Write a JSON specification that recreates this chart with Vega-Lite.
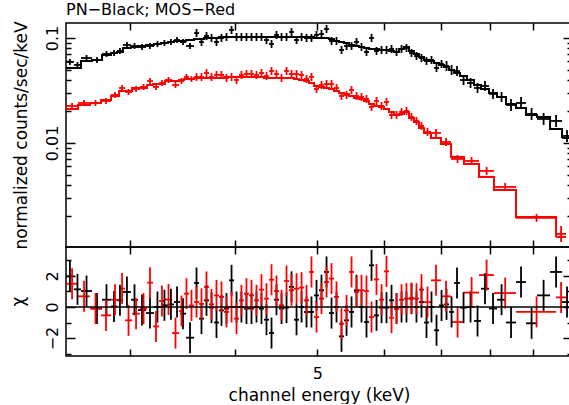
{
  "$schema": "https://vega.github.io/schema/vega-lite/v6.json",
  "autosize": {"type": "pad"},
  "padding": {"left": 8, "top": 2, "right": 0, "bottom": 0},
  "background": "white",
  "config": {
    "font": "DejaVu Sans",
    "view": {"stroke": "black", "strokeWidth": 1.5},
    "axis": {"domain": false, "grid": false, "tickColor": "black", "tickWidth": 1.5, "labelColor": "black", "titleColor": "black", "labelFont": "DejaVu Sans", "titleFont": "DejaVu Sans", "labelFontSize": 16, "titleFontSize": 17, "titleFontWeight": "normal", "labelOverlap": false, "labelFlush": false}
  },
  "title": {"text": "PN−Black; MOS−Red", "anchor": "start", "frame": "group", "fontSize": 16, "fontWeight": "normal", "font": "DejaVu Sans", "color": "black", "offset": 2},
  "spacing": 0,
  "bounds": "flush",
  "datasets": {
    "d": [
      {"s":"PN","lo":2.523,"hi":2.578,"e":2.550,"m":0.05179,"y":0.05908,"yl":0.05532,"yh":0.0631,"c":1.98,"cl":0.98,"ch":2.98},
      {"s":"PN","lo":2.578,"hi":2.628,"e":2.603,"m":0.05179,"y":0.05532,"yl":0.05179,"yh":0.05908,"c":1.14,"cl":0.14,"ch":2.14},
      {"s":"PN","lo":2.628,"hi":2.708,"e":2.668,"m":0.06039,"y":0.06449,"yl":0.06039,"yh":0.06888,"c":1.03,"cl":0.03,"ch":2.03},
      {"s":"PN","lo":2.708,"hi":2.783,"e":2.745,"m":0.06173,"y":0.06173,"yl":0.0578,"yh":0.06592,"c":-0.1,"cl":-1.1,"ch":0.9},
      {"s":"PN","lo":2.783,"hi":2.852,"e":2.817,"m":0.06888,"y":0.07041,"yl":0.06592,"yh":0.07519,"c":0.47,"cl":-0.53,"ch":1.47},
      {"s":"PN","lo":2.852,"hi":2.899,"e":2.875,"m":0.07197,"y":0.07197,"yl":0.06739,"yh":0.07686,"c":0.04,"cl":-0.96,"ch":1.04},
      {"s":"PN","lo":2.899,"hi":2.946,"e":2.922,"m":0.07356,"y":0.07519,"yl":0.07041,"yh":0.0803,"c":0.43,"cl":-0.57,"ch":1.43},
      {"s":"PN","lo":2.946,"hi":3.011,"e":2.978,"m":0.0803,"y":0.08576,"yl":0.0803,"yh":0.0916,"c":0.97,"cl":-0.03,"ch":1.97},
      {"s":"PN","lo":3.011,"hi":3.069,"e":3.040,"m":0.08208,"y":0.0839,"yl":0.07856,"yh":0.08961,"c":0.47,"cl":-0.53,"ch":1.47},
      {"s":"PN","lo":3.069,"hi":3.137,"e":3.103,"m":0.0839,"y":0.08208,"yl":0.07686,"yh":0.08767,"c":-0.2,"cl":-1.2,"ch":0.8},
      {"s":"PN","lo":3.137,"hi":3.206,"e":3.171,"m":0.08576,"y":0.0839,"yl":0.07856,"yh":0.08961,"c":-0.39,"cl":-1.39,"ch":0.61},
      {"s":"PN","lo":3.206,"hi":3.267,"e":3.236,"m":0.08767,"y":0.08767,"yl":0.08208,"yh":0.09363,"c":0,"cl":-1,"ch":1},
      {"s":"PN","lo":3.267,"hi":3.330,"e":3.298,"m":0.08961,"y":0.08961,"yl":0.0839,"yh":0.09571,"c":0.11,"cl":-0.89,"ch":1.11},
      {"s":"PN","lo":3.330,"hi":3.385,"e":3.357,"m":0.0916,"y":0.0916,"yl":0.08576,"yh":0.09783,"c":0.17,"cl":-0.83,"ch":1.17},
      {"s":"PN","lo":3.385,"hi":3.441,"e":3.413,"m":0.09363,"y":0.09571,"yl":0.08961,"yh":0.1022,"c":0.32,"cl":-0.68,"ch":1.32},
      {"s":"PN","lo":3.441,"hi":3.498,"e":3.469,"m":0.09363,"y":0.0916,"yl":0.08576,"yh":0.09783,"c":-0.43,"cl":-1.43,"ch":0.57},
      {"s":"PN","lo":3.498,"hi":3.575,"e":3.536,"m":0.09571,"y":0.0839,"yl":0.07856,"yh":0.08961,"c":-1.98,"cl":-2.98,"ch":-0.98},
      {"s":"PN","lo":3.575,"hi":3.624,"e":3.599,"m":0.09783,"y":0.1116,"yl":0.1022,"yh":0.1218,"c":1.55,"cl":0.55,"ch":2.55},
      {"s":"PN","lo":3.624,"hi":3.673,"e":3.648,"m":0.09783,"y":0.0916,"yl":0.0839,"yh":0.1,"c":-0.75,"cl":-1.75,"ch":0.25},
      {"s":"PN","lo":3.673,"hi":3.724,"e":3.698,"m":0.1,"y":0.1045,"yl":0.09571,"yh":0.1141,"c":0.43,"cl":-0.57,"ch":1.43},
      {"s":"PN","lo":3.724,"hi":3.775,"e":3.749,"m":0.1,"y":0.1,"yl":0.0916,"yh":0.1092,"c":-0.04,"cl":-1.04,"ch":0.96},
      {"s":"PN","lo":3.775,"hi":3.826,"e":3.800,"m":0.1,"y":0.0916,"yl":0.0839,"yh":0.1,"c":-1,"cl":-2,"ch":0},
      {"s":"PN","lo":3.826,"hi":3.879,"e":3.852,"m":0.1022,"y":0.1,"yl":0.0916,"yh":0.1092,"c":-0.22,"cl":-1.22,"ch":0.78},
      {"s":"PN","lo":3.879,"hi":3.932,"e":3.905,"m":0.1022,"y":0.1022,"yl":0.09363,"yh":0.1116,"c":-0.1,"cl":-1.1,"ch":0.9},
      {"s":"PN","lo":3.932,"hi":3.986,"e":3.959,"m":0.1022,"y":0.1192,"yl":0.1092,"yh":0.1301,"c":1.72,"cl":0.72,"ch":2.72},
      {"s":"PN","lo":3.986,"hi":4.040,"e":4.013,"m":0.1022,"y":0.1022,"yl":0.09363,"yh":0.1116,"c":0,"cl":-1,"ch":1},
      {"s":"PN","lo":4.040,"hi":4.095,"e":4.067,"m":0.1022,"y":0.1022,"yl":0.09363,"yh":0.1116,"c":0,"cl":-1,"ch":1},
      {"s":"PN","lo":4.095,"hi":4.152,"e":4.123,"m":0.1022,"y":0.1022,"yl":0.09363,"yh":0.1116,"c":-0.1,"cl":-1.1,"ch":0.9},
      {"s":"PN","lo":4.152,"hi":4.208,"e":4.180,"m":0.1022,"y":0.1022,"yl":0.09363,"yh":0.1116,"c":-0.1,"cl":-1.1,"ch":0.9},
      {"s":"PN","lo":4.208,"hi":4.266,"e":4.237,"m":0.1022,"y":0.1022,"yl":0.09363,"yh":0.1116,"c":0,"cl":-1,"ch":1},
      {"s":"PN","lo":4.266,"hi":4.325,"e":4.295,"m":0.1022,"y":0.1022,"yl":0.09363,"yh":0.1116,"c":-0.1,"cl":-1.1,"ch":0.9},
      {"s":"PN","lo":4.325,"hi":4.384,"e":4.354,"m":0.1022,"y":0.09571,"yl":0.08767,"yh":0.1045,"c":-0.82,"cl":-1.82,"ch":0.18},
      {"s":"PN","lo":4.384,"hi":4.444,"e":4.414,"m":0.1022,"y":0.08767,"yl":0.0803,"yh":0.09571,"c":-1.68,"cl":-2.68,"ch":-0.68},
      {"s":"PN","lo":4.444,"hi":4.505,"e":4.474,"m":0.1022,"y":0.1068,"yl":0.09783,"yh":0.1166,"c":0.47,"cl":-0.53,"ch":1.47},
      {"s":"PN","lo":4.505,"hi":4.567,"e":4.536,"m":0.1022,"y":0.1022,"yl":0.09363,"yh":0.1116,"c":-0.1,"cl":-1.1,"ch":0.9},
      {"s":"PN","lo":4.567,"hi":4.629,"e":4.598,"m":0.1022,"y":0.1022,"yl":0.09363,"yh":0.1116,"c":-0.04,"cl":-1.04,"ch":0.96},
      {"s":"PN","lo":4.629,"hi":4.693,"e":4.661,"m":0.1022,"y":0.1141,"yl":0.1045,"yh":0.1245,"c":1.3,"cl":0.3,"ch":2.3},
      {"s":"PN","lo":4.693,"hi":4.757,"e":4.725,"m":0.1022,"y":0.09571,"yl":0.08767,"yh":0.1045,"c":-0.82,"cl":-1.82,"ch":0.18},
      {"s":"PN","lo":4.757,"hi":4.822,"e":4.790,"m":0.1022,"y":0.1022,"yl":0.09363,"yh":0.1116,"c":0,"cl":-1,"ch":1},
      {"s":"PN","lo":4.822,"hi":4.888,"e":4.855,"m":0.1022,"y":0.1,"yl":0.0916,"yh":0.1092,"c":-0.32,"cl":-1.32,"ch":0.68},
      {"s":"PN","lo":4.888,"hi":4.955,"e":4.921,"m":0.1022,"y":0.1,"yl":0.0916,"yh":0.1092,"c":-0.32,"cl":-1.32,"ch":0.68},
      {"s":"PN","lo":4.955,"hi":5.023,"e":4.989,"m":0.1,"y":0.1068,"yl":0.09783,"yh":0.1166,"c":0.75,"cl":-0.25,"ch":1.75},
      {"s":"PN","lo":5.023,"hi":5.092,"e":5.057,"m":0.1,"y":0.1092,"yl":0.1,"yh":0.1192,"c":1.08,"cl":0.08,"ch":2.08},
      {"s":"PN","lo":5.092,"hi":5.161,"e":5.127,"m":0.1,"y":0.1218,"yl":0.1116,"yh":0.133,"c":2.26,"cl":1.26,"ch":3.26},
      {"s":"PN","lo":5.161,"hi":5.232,"e":5.197,"m":0.09783,"y":0.09363,"yl":0.08576,"yh":0.1022,"c":-0.39,"cl":-1.39,"ch":0.61},
      {"s":"PN","lo":5.232,"hi":5.304,"e":5.268,"m":0.09363,"y":0.09363,"yl":0.08576,"yh":0.1022,"c":0,"cl":-1,"ch":1},
      {"s":"PN","lo":5.304,"hi":5.377,"e":5.340,"m":0.0916,"y":0.07686,"yl":0.07041,"yh":0.0839,"c":-1.89,"cl":-2.89,"ch":-0.89},
      {"s":"PN","lo":5.377,"hi":5.450,"e":5.414,"m":0.08961,"y":0.0839,"yl":0.07686,"yh":0.0916,"c":-0.86,"cl":-1.86,"ch":0.14},
      {"s":"PN","lo":5.450,"hi":5.525,"e":5.488,"m":0.08576,"y":0.0839,"yl":0.07686,"yh":0.0916,"c":-0.32,"cl":-1.32,"ch":0.68},
      {"s":"PN","lo":5.525,"hi":5.601,"e":5.563,"m":0.0839,"y":0.0916,"yl":0.0839,"yh":0.1,"c":1.08,"cl":0.08,"ch":2.08},
      {"s":"PN","lo":5.601,"hi":5.678,"e":5.639,"m":0.08208,"y":0.08208,"yl":0.07519,"yh":0.08961,"c":0,"cl":-1,"ch":1},
      {"s":"PN","lo":5.678,"hi":5.755,"e":5.716,"m":0.0803,"y":0.07356,"yl":0.06739,"yh":0.0803,"c":-0.97,"cl":-1.97,"ch":0.03},
      {"s":"PN","lo":5.755,"hi":5.834,"e":5.795,"m":0.07856,"y":0.1,"yl":0.0916,"yh":0.1092,"c":2.69,"cl":1.69,"ch":3.69},
      {"s":"PN","lo":5.834,"hi":5.914,"e":5.874,"m":0.07856,"y":0.07519,"yl":0.06888,"yh":0.08208,"c":-0.54,"cl":-1.54,"ch":0.46},
      {"s":"PN","lo":5.914,"hi":5.995,"e":5.955,"m":0.07686,"y":0.07686,"yl":0.07041,"yh":0.0839,"c":-0.04,"cl":-1.04,"ch":0.96},
      {"s":"PN","lo":5.995,"hi":6.078,"e":6.036,"m":0.07686,"y":0.07686,"yl":0.07041,"yh":0.0839,"c":-0.04,"cl":-1.04,"ch":0.96},
      {"s":"PN","lo":6.078,"hi":6.161,"e":6.119,"m":0.07519,"y":0.07856,"yl":0.07197,"yh":0.08576,"c":0.43,"cl":-0.57,"ch":1.43},
      {"s":"PN","lo":6.161,"hi":6.246,"e":6.203,"m":0.07356,"y":0.07356,"yl":0.06739,"yh":0.0803,"c":-0.1,"cl":-1.1,"ch":0.9},
      {"s":"PN","lo":6.246,"hi":6.330,"e":6.288,"m":0.07856,"y":0.07856,"yl":0.07197,"yh":0.08576,"c":0,"cl":-1,"ch":1},
      {"s":"PN","lo":6.330,"hi":6.417,"e":6.373,"m":0.08208,"y":0.0803,"yl":0.07356,"yh":0.08767,"c":0,"cl":-1,"ch":1},
      {"s":"PN","lo":6.417,"hi":6.505,"e":6.461,"m":0.07519,"y":0.07197,"yl":0.06592,"yh":0.07856,"c":0.54,"cl":-0.46,"ch":1.54},
      {"s":"PN","lo":6.505,"hi":6.594,"e":6.549,"m":0.07041,"y":0.06739,"yl":0.06173,"yh":0.07356,"c":0,"cl":-1,"ch":1},
      {"s":"PN","lo":6.594,"hi":6.685,"e":6.639,"m":0.06592,"y":0.06449,"yl":0.05908,"yh":0.07041,"c":0.32,"cl":-0.68,"ch":1.32},
      {"s":"PN","lo":6.685,"hi":6.776,"e":6.730,"m":0.06173,"y":0.06039,"yl":0.05532,"yh":0.06592,"c":-1,"cl":-2,"ch":0},
      {"s":"PN","lo":6.776,"hi":6.869,"e":6.822,"m":0.06039,"y":0.06173,"yl":0.05654,"yh":0.06739,"c":0,"cl":-1,"ch":1},
      {"s":"PN","lo":6.869,"hi":6.963,"e":6.916,"m":0.0578,"y":0.05179,"yl":0.04745,"yh":0.05654,"c":-1.5,"cl":-2.5,"ch":-0.5},
      {"s":"PN","lo":6.963,"hi":7.059,"e":7.011,"m":0.05532,"y":0.05654,"yl":0.05179,"yh":0.06173,"c":0.1,"cl":-0.9,"ch":1.1},
      {"s":"PN","lo":7.059,"hi":7.156,"e":7.107,"m":0.05294,"y":0.05412,"yl":0.0485,"yh":0.06039,"c":0.17,"cl":-0.83,"ch":1.17},
      {"s":"PN","lo":7.156,"hi":7.254,"e":7.205,"m":0.04957,"y":0.04957,"yl":0.04442,"yh":0.05532,"c":-0.32,"cl":-1.32,"ch":0.68},
      {"s":"PN","lo":7.254,"hi":7.373,"e":7.313,"m":0.04642,"y":0.0485,"yl":0.04346,"yh":0.05412,"c":1.55,"cl":0.55,"ch":2.55},
      {"s":"PN","lo":7.373,"hi":7.515,"e":7.444,"m":0.04346,"y":0.03981,"yl":0.03568,"yh":0.04442,"c":-0.04,"cl":-1.04,"ch":0.96},
      {"s":"PN","lo":7.515,"hi":7.660,"e":7.587,"m":0.03981,"y":0.03728,"yl":0.0334,"yh":0.0416,"c":0,"cl":-1,"ch":1},
      {"s":"PN","lo":7.660,"hi":7.807,"e":7.733,"m":0.03568,"y":0.0334,"yl":0.02994,"yh":0.03728,"c":-0.9,"cl":-1.9,"ch":0.1},
      {"s":"PN","lo":7.807,"hi":7.978,"e":7.892,"m":0.03268,"y":0.0349,"yl":0.03128,"yh":0.03895,"c":1.18,"cl":0.18,"ch":2.18},
      {"s":"PN","lo":7.978,"hi":8.154,"e":8.066,"m":0.02994,"y":0.02929,"yl":0.02625,"yh":0.03268,"c":-0.1,"cl":-1.1,"ch":0.9},
      {"s":"PN","lo":8.154,"hi":8.356,"e":8.255,"m":0.02742,"y":0.02742,"yl":0.02457,"yh":0.0306,"c":0.47,"cl":-0.53,"ch":1.47},
      {"s":"PN","lo":8.356,"hi":8.587,"e":8.471,"m":0.02352,"y":0.02301,"yl":0.02017,"yh":0.02625,"c":-1,"cl":-2,"ch":0},
      {"s":"PN","lo":8.587,"hi":8.824,"e":8.705,"m":0.02154,"y":0.02404,"yl":0.02108,"yh":0.02742,"c":1.61,"cl":0.61,"ch":2.61},
      {"s":"PN","lo":8.824,"hi":9.092,"e":8.958,"m":0.01848,"y":0.01889,"yl":0.01656,"yh":0.02154,"c":-1.05,"cl":-2.05,"ch":-0.05},
      {"s":"PN","lo":9.092,"hi":9.420,"e":9.256,"m":0.01769,"y":0.01693,"yl":0.01484,"yh":0.01931,"c":0.75,"cl":-0.25,"ch":1.75},
      {"s":"PN","lo":9.420,"hi":9.733,"e":9.576,"m":0.01359,"y":0.0162,"yl":0.0142,"yh":0.01848,"c":2.26,"cl":1.26,"ch":3.26},
      {"s":"PN","lo":9.733,"hi":10.0,"e":9.866,"m":0.01116,"y":0.01166,"yl":0.01022,"yh":0.0133,"c":0.32,"cl":-0.68,"ch":1.32},
      {"s":"MOS","lo":2.523,"hi":2.607,"e":2.565,"m":0.02108,"y":0.02251,"yl":0.02108,"yh":0.02404,"c":1.5,"cl":0.5,"ch":2.5},
      {"s":"MOS","lo":2.607,"hi":2.693,"e":2.650,"m":0.02301,"y":0.02404,"yl":0.02251,"yh":0.02568,"c":0.69,"cl":-0.31,"ch":1.69},
      {"s":"MOS","lo":2.693,"hi":2.775,"e":2.734,"m":0.02404,"y":0.02404,"yl":0.02251,"yh":0.02568,"c":-0.1,"cl":-1.1,"ch":0.9},
      {"s":"MOS","lo":2.775,"hi":2.852,"e":2.813,"m":0.02568,"y":0.02512,"yl":0.02352,"yh":0.02683,"c":-0.54,"cl":-1.54,"ch":0.46},
      {"s":"MOS","lo":2.852,"hi":2.915,"e":2.883,"m":0.02803,"y":0.02865,"yl":0.02683,"yh":0.0306,"c":0.47,"cl":-0.53,"ch":1.47},
      {"s":"MOS","lo":2.915,"hi":2.963,"e":2.939,"m":0.03128,"y":0.0334,"yl":0.03128,"yh":0.03568,"c":1.19,"cl":0.19,"ch":2.19},
      {"s":"MOS","lo":2.963,"hi":3.020,"e":2.991,"m":0.03128,"y":0.0306,"yl":0.02865,"yh":0.03268,"c":-0.86,"cl":-1.86,"ch":0.14},
      {"s":"MOS","lo":3.020,"hi":3.086,"e":3.053,"m":0.0334,"y":0.03268,"yl":0.0306,"yh":0.0349,"c":-0.43,"cl":-1.43,"ch":0.57},
      {"s":"MOS","lo":3.086,"hi":3.146,"e":3.116,"m":0.0334,"y":0.03415,"yl":0.03197,"yh":0.03647,"c":-0.1,"cl":-1.1,"ch":0.9},
      {"s":"MOS","lo":3.146,"hi":3.197,"e":3.171,"m":0.03568,"y":0.03895,"yl":0.03647,"yh":0.0416,"c":1.57,"cl":0.57,"ch":2.57},
      {"s":"MOS","lo":3.197,"hi":3.250,"e":3.223,"m":0.03647,"y":0.03415,"yl":0.03197,"yh":0.03647,"c":-1.25,"cl":-2.25,"ch":-0.25},
      {"s":"MOS","lo":3.250,"hi":3.303,"e":3.276,"m":0.03647,"y":0.03728,"yl":0.0349,"yh":0.03981,"c":0.39,"cl":-0.61,"ch":1.39},
      {"s":"MOS","lo":3.303,"hi":3.367,"e":3.335,"m":0.03895,"y":0.03981,"yl":0.03728,"yh":0.04252,"c":0.48,"cl":-0.52,"ch":1.48},
      {"s":"MOS","lo":3.367,"hi":3.432,"e":3.399,"m":0.03895,"y":0.03568,"yl":0.0334,"yh":0.0381,"c":-1.68,"cl":-2.68,"ch":-0.68},
      {"s":"MOS","lo":3.432,"hi":3.479,"e":3.455,"m":0.03981,"y":0.03895,"yl":0.03647,"yh":0.0416,"c":-0.26,"cl":-1.26,"ch":0.74},
      {"s":"MOS","lo":3.479,"hi":3.526,"e":3.502,"m":0.04069,"y":0.04252,"yl":0.03981,"yh":0.04541,"c":0.86,"cl":-0.14,"ch":1.86},
      {"s":"MOS","lo":3.526,"hi":3.575,"e":3.550,"m":0.04069,"y":0.04069,"yl":0.0381,"yh":0.04346,"c":0.1,"cl":-0.9,"ch":1.1},
      {"s":"MOS","lo":3.575,"hi":3.624,"e":3.599,"m":0.0416,"y":0.04252,"yl":0.03895,"yh":0.04642,"c":0.32,"cl":-0.68,"ch":1.32},
      {"s":"MOS","lo":3.624,"hi":3.673,"e":3.648,"m":0.0416,"y":0.04252,"yl":0.03895,"yh":0.04642,"c":0.2,"cl":-0.8,"ch":1.2},
      {"s":"MOS","lo":3.673,"hi":3.724,"e":3.698,"m":0.0416,"y":0.04642,"yl":0.04252,"yh":0.05067,"c":1.29,"cl":0.29,"ch":2.29},
      {"s":"MOS","lo":3.724,"hi":3.775,"e":3.749,"m":0.0416,"y":0.04252,"yl":0.03895,"yh":0.04642,"c":0.17,"cl":-0.83,"ch":1.17},
      {"s":"MOS","lo":3.775,"hi":3.826,"e":3.800,"m":0.0416,"y":0.04442,"yl":0.04069,"yh":0.0485,"c":0.75,"cl":-0.25,"ch":1.75},
      {"s":"MOS","lo":3.826,"hi":3.879,"e":3.852,"m":0.0416,"y":0.04442,"yl":0.04069,"yh":0.0485,"c":0.65,"cl":-0.35,"ch":1.65},
      {"s":"MOS","lo":3.879,"hi":3.932,"e":3.905,"m":0.04252,"y":0.0416,"yl":0.0381,"yh":0.04541,"c":-0.32,"cl":-1.32,"ch":0.68},
      {"s":"MOS","lo":3.932,"hi":3.986,"e":3.959,"m":0.04252,"y":0.04252,"yl":0.03895,"yh":0.04642,"c":0,"cl":-1,"ch":1},
      {"s":"MOS","lo":3.986,"hi":4.040,"e":4.013,"m":0.04252,"y":0.03981,"yl":0.03647,"yh":0.04346,"c":-0.75,"cl":-1.75,"ch":0.25},
      {"s":"MOS","lo":4.040,"hi":4.095,"e":4.067,"m":0.04252,"y":0.04442,"yl":0.04069,"yh":0.0485,"c":0.43,"cl":-0.57,"ch":1.43},
      {"s":"MOS","lo":4.095,"hi":4.152,"e":4.123,"m":0.04252,"y":0.04541,"yl":0.0416,"yh":0.04957,"c":0.86,"cl":-0.14,"ch":1.86},
      {"s":"MOS","lo":4.152,"hi":4.208,"e":4.180,"m":0.04252,"y":0.04541,"yl":0.0416,"yh":0.04957,"c":0.75,"cl":-0.25,"ch":1.75},
      {"s":"MOS","lo":4.208,"hi":4.266,"e":4.237,"m":0.04252,"y":0.04442,"yl":0.04069,"yh":0.0485,"c":0.43,"cl":-0.57,"ch":1.43},
      {"s":"MOS","lo":4.266,"hi":4.325,"e":4.295,"m":0.04252,"y":0.04642,"yl":0.04252,"yh":0.05067,"c":1.12,"cl":0.12,"ch":2.12},
      {"s":"MOS","lo":4.325,"hi":4.384,"e":4.354,"m":0.0416,"y":0.04346,"yl":0.03981,"yh":0.04745,"c":0.54,"cl":-0.46,"ch":1.54},
      {"s":"MOS","lo":4.384,"hi":4.444,"e":4.414,"m":0.0416,"y":0.0485,"yl":0.04442,"yh":0.05294,"c":1.76,"cl":0.76,"ch":2.76},
      {"s":"MOS","lo":4.444,"hi":4.505,"e":4.474,"m":0.0416,"y":0.04541,"yl":0.0416,"yh":0.04957,"c":1.03,"cl":0.03,"ch":2.03},
      {"s":"MOS","lo":4.505,"hi":4.567,"e":4.536,"m":0.0416,"y":0.0416,"yl":0.0381,"yh":0.04541,"c":0.11,"cl":-0.89,"ch":1.11},
      {"s":"MOS","lo":4.567,"hi":4.629,"e":4.598,"m":0.0416,"y":0.0485,"yl":0.04442,"yh":0.05294,"c":1.68,"cl":0.68,"ch":2.68},
      {"s":"MOS","lo":4.629,"hi":4.693,"e":4.661,"m":0.0416,"y":0.04541,"yl":0.0416,"yh":0.04957,"c":1.08,"cl":0.08,"ch":2.08},
      {"s":"MOS","lo":4.693,"hi":4.757,"e":4.725,"m":0.04069,"y":0.04541,"yl":0.0416,"yh":0.04957,"c":1.18,"cl":0.18,"ch":2.18},
      {"s":"MOS","lo":4.757,"hi":4.822,"e":4.790,"m":0.03981,"y":0.04442,"yl":0.04069,"yh":0.0485,"c":1.25,"cl":0.25,"ch":2.25},
      {"s":"MOS","lo":4.822,"hi":4.888,"e":4.855,"m":0.03895,"y":0.04069,"yl":0.03728,"yh":0.04442,"c":0.43,"cl":-0.57,"ch":1.43},
      {"s":"MOS","lo":4.888,"hi":4.955,"e":4.921,"m":0.03728,"y":0.04252,"yl":0.03895,"yh":0.04642,"c":2.26,"cl":1.26,"ch":3.26},
      {"s":"MOS","lo":4.955,"hi":5.023,"e":4.989,"m":0.0349,"y":0.03268,"yl":0.02994,"yh":0.03568,"c":-0.65,"cl":-1.65,"ch":0.35},
      {"s":"MOS","lo":5.023,"hi":5.092,"e":5.057,"m":0.03415,"y":0.03568,"yl":0.03268,"yh":0.03895,"c":0.54,"cl":-0.46,"ch":1.54},
      {"s":"MOS","lo":5.092,"hi":5.161,"e":5.127,"m":0.0334,"y":0.03647,"yl":0.0334,"yh":0.03981,"c":1.61,"cl":0.61,"ch":2.61},
      {"s":"MOS","lo":5.161,"hi":5.232,"e":5.197,"m":0.03268,"y":0.03647,"yl":0.0334,"yh":0.03981,"c":1.83,"cl":0.83,"ch":2.83},
      {"s":"MOS","lo":5.232,"hi":5.304,"e":5.268,"m":0.03128,"y":0.0334,"yl":0.0306,"yh":0.03647,"c":0.65,"cl":-0.35,"ch":1.65},
      {"s":"MOS","lo":5.304,"hi":5.377,"e":5.340,"m":0.02994,"y":0.02803,"yl":0.02568,"yh":0.0306,"c":-1.08,"cl":-2.08,"ch":-0.08},
      {"s":"MOS","lo":5.377,"hi":5.450,"e":5.414,"m":0.02929,"y":0.02865,"yl":0.02625,"yh":0.03128,"c":-0.22,"cl":-1.22,"ch":0.78},
      {"s":"MOS","lo":5.450,"hi":5.525,"e":5.488,"m":0.02803,"y":0.03197,"yl":0.02929,"yh":0.0349,"c":2.26,"cl":1.26,"ch":3.26},
      {"s":"MOS","lo":5.525,"hi":5.601,"e":5.563,"m":0.02683,"y":0.02803,"yl":0.02568,"yh":0.0306,"c":0.97,"cl":-0.03,"ch":1.97},
      {"s":"MOS","lo":5.601,"hi":5.678,"e":5.639,"m":0.02625,"y":0.02742,"yl":0.02512,"yh":0.02994,"c":1.08,"cl":0.08,"ch":2.08},
      {"s":"MOS","lo":5.678,"hi":5.755,"e":5.716,"m":0.02512,"y":0.02625,"yl":0.02404,"yh":0.02865,"c":1.03,"cl":0.03,"ch":2.03},
      {"s":"MOS","lo":5.755,"hi":5.834,"e":5.795,"m":0.02352,"y":0.02202,"yl":0.02017,"yh":0.02404,"c":-0.65,"cl":-1.65,"ch":0.35},
      {"s":"MOS","lo":5.834,"hi":5.914,"e":5.874,"m":0.02251,"y":0.02512,"yl":0.02301,"yh":0.02742,"c":1.78,"cl":0.78,"ch":2.78},
      {"s":"MOS","lo":5.914,"hi":5.995,"e":5.955,"m":0.02202,"y":0.02251,"yl":0.02062,"yh":0.02457,"c":0.47,"cl":-0.53,"ch":1.47},
      {"s":"MOS","lo":5.995,"hi":6.078,"e":6.036,"m":0.02108,"y":0.02457,"yl":0.02251,"yh":0.02683,"c":2.3,"cl":1.3,"ch":3.3},
      {"s":"MOS","lo":6.078,"hi":6.161,"e":6.119,"m":0.01974,"y":0.01848,"yl":0.01693,"yh":0.02017,"c":-0.69,"cl":-1.69,"ch":0.31},
      {"s":"MOS","lo":6.161,"hi":6.246,"e":6.203,"m":0.01848,"y":0.01848,"yl":0.01693,"yh":0.02017,"c":-0.1,"cl":-1.1,"ch":0.9},
      {"s":"MOS","lo":6.246,"hi":6.330,"e":6.288,"m":0.01889,"y":0.01974,"yl":0.01808,"yh":0.02154,"c":0.47,"cl":-0.53,"ch":1.47},
      {"s":"MOS","lo":6.330,"hi":6.417,"e":6.373,"m":0.01974,"y":0.02017,"yl":0.01848,"yh":0.02202,"c":0.54,"cl":-0.46,"ch":1.54},
      {"s":"MOS","lo":6.417,"hi":6.505,"e":6.461,"m":0.0173,"y":0.01769,"yl":0.0162,"yh":0.01931,"c":0.58,"cl":-0.42,"ch":1.58},
      {"s":"MOS","lo":6.505,"hi":6.594,"e":6.549,"m":0.01585,"y":0.0162,"yl":0.01484,"yh":0.01769,"c":0.54,"cl":-0.46,"ch":1.54},
      {"s":"MOS","lo":6.594,"hi":6.685,"e":6.639,"m":0.0139,"y":0.01452,"yl":0.0133,"yh":0.01585,"c":1.12,"cl":0.12,"ch":2.12},
      {"s":"MOS","lo":6.685,"hi":6.813,"e":6.749,"m":0.01245,"y":0.01273,"yl":0.01166,"yh":0.0139,"c":0.32,"cl":-0.68,"ch":1.32},
      {"s":"MOS","lo":6.813,"hi":7.001,"e":6.907,"m":0.01116,"y":0.01245,"yl":0.01141,"yh":0.01359,"c":1.72,"cl":0.72,"ch":2.72},
      {"s":"MOS","lo":7.001,"hi":7.195,"e":7.098,"m":0.009783,"y":0.01022,"yl":0.009363,"yh":0.01116,"c":0.69,"cl":-0.31,"ch":1.69},
      {"s":"MOS","lo":7.195,"hi":7.454,"e":7.324,"m":0.007356,"y":0.007041,"yl":0.006449,"yh":0.007686,"c":-0.97,"cl":-1.97,"ch":0.03},
      {"s":"MOS","lo":7.454,"hi":7.765,"e":7.609,"m":0.00631,"y":0.006739,"yl":0.006173,"yh":0.007356,"c":0.93,"cl":-0.07,"ch":1.93},
      {"s":"MOS","lo":7.765,"hi":8.087,"e":7.926,"m":0.004745,"y":0.005412,"yl":0.004957,"yh":0.005908,"c":2.06,"cl":1.06,"ch":3.06},
      {"s":"MOS","lo":8.087,"hi":8.587,"e":8.337,"m":0.003568,"y":0.00381,"yl":0.00349,"yh":0.00416,"c":0.9,"cl":-0.1,"ch":1.9},
      {"s":"MOS","lo":8.587,"hi":9.575,"e":9.081,"m":0.001974,"y":0.001931,"yl":0.001769,"yh":0.002108,"c":-0.32,"cl":-1.32,"ch":0.68},
      {"s":"MOS","lo":9.575,"hi":9.839,"e":9.707,"m":0.001273,"y":0.001359,"yl":0.001141,"yh":0.00162,"c":0.62,"cl":-0.38,"ch":1.62}
    ]
  },
  "vconcat": [
    {
      "width": 506,
      "height": 224,
      "data": {"name": "d"},
      "resolve": {"axis": {"x": "independent", "y": "independent"}},
      "layer": [
        {
          "mark": {"type": "rule", "strokeWidth": 1.8, "clip": true},
          "encoding": {
            "x": {"field": "lo", "type": "quantitative", "scale": {"type": "log", "domain": [2.523, 10], "nice": false},
                  "axis": {"orient": "bottom", "values": [3, 4, 5, 6, 7, 8, 9], "labels": false, "tickSize": -7, "title": null}},
            "x2": {"field": "hi"},
            "y": {"field": "y", "type": "quantitative", "scale": {"type": "log", "domain": [0.00102, 0.139], "nice": false},
                  "axis": {"orient": "left", "values": [0.002, 0.003, 0.004, 0.005, 0.006, 0.007, 0.008, 0.009, 0.01, 0.02, 0.03, 0.04, 0.05, 0.06, 0.07, 0.08, 0.09, 0.1],
                           "tickSize": {"condition": {"test": "datum.value == 0.1 || datum.value == 0.01", "value": -9}, "value": -5},
                           "labelExpr": "datum.value == 0.1 ? '0.1' : datum.value == 0.01 ? '0.01' : ''",
                           "labelAngle": -90, "labelAlign": "center", "labelBaseline": "alphabetic", "labelPadding": 18,
                           "title": "normalized counts/sec/keV", "titleAngle": -90, "titleX": -40, "titleY": 112, "titleAlign": "center", "titleBaseline": "alphabetic"}},
            "color": {"field": "s", "type": "nominal", "scale": {"domain": ["PN", "MOS"], "range": ["#000000", "#ff0000"]}, "legend": null}
          }
        },
        {
          "mark": {"type": "rule", "strokeWidth": 1.8, "clip": true},
          "encoding": {
            "x": {"field": "e", "type": "quantitative",
                  "axis": {"orient": "top", "values": [3, 4, 5, 6, 7, 8, 9], "labels": false, "tickSize": -7, "title": null}},
            "y": {"field": "yl", "type": "quantitative",
                  "axis": {"orient": "right", "values": [0.002, 0.003, 0.004, 0.005, 0.006, 0.007, 0.008, 0.009, 0.01, 0.02, 0.03, 0.04, 0.05, 0.06, 0.07, 0.08, 0.09, 0.1],
                           "tickSize": {"condition": {"test": "datum.value == 0.1 || datum.value == 0.01", "value": -9}, "value": -5},
                           "labels": false, "title": null}},
            "y2": {"field": "yh"},
            "color": {"field": "s", "type": "nominal", "scale": {"domain": ["PN", "MOS"], "range": ["#000000", "#ff0000"]}, "legend": null}
          }
        },
        {
          "mark": {"type": "line", "interpolate": "step-after", "strokeWidth": 2, "clip": true},
          "encoding": {
            "x": {"field": "lo", "type": "quantitative", "axis": null},
            "y": {"field": "m", "type": "quantitative", "axis": null},
            "color": {"field": "s", "type": "nominal", "scale": {"domain": ["PN", "MOS"], "range": ["#000000", "#ff0000"]}, "legend": null}
          }
        },
        {
          "mark": {"type": "rule", "strokeWidth": 2, "clip": true},
          "encoding": {
            "x": {"field": "lo", "type": "quantitative", "axis": null},
            "x2": {"field": "hi"},
            "y": {"field": "m", "type": "quantitative", "axis": null},
            "color": {"field": "s", "type": "nominal", "scale": {"domain": ["PN", "MOS"], "range": ["#000000", "#ff0000"]}, "legend": null}
          }
        }
      ]
    },
    {
      "width": 506,
      "height": 109,
      "data": {"name": "d"},
      "resolve": {"axis": {"x": "independent", "y": "independent"}},
      "layer": [
        {
          "mark": {"type": "rule", "strokeWidth": 1.8, "clip": true},
          "encoding": {
            "x": {"field": "lo", "type": "quantitative", "scale": {"type": "log", "domain": [2.523, 10], "nice": false},
                  "axis": {"orient": "bottom", "values": [3, 4, 5, 6, 7, 8, 9], "tickSize": -7,
                           "labelExpr": "datum.value == 5 ? '5' : ''", "labelBaseline": "alphabetic", "labelPadding": 29,
                           "title": "channel energy (keV)", "titleX": 253, "titleY": 44, "titleAlign": "center", "titleBaseline": "alphabetic"}},
            "x2": {"field": "hi"},
            "y": {"field": "c", "type": "quantitative", "scale": {"domain": [-3.16, 3.87], "nice": false, "zero": false},
                  "axis": {"orient": "left", "values": [-3, -2, -1, 0, 1, 2, 3],
                           "tickSize": {"condition": {"test": "datum.value % 2 == 0", "value": -9}, "value": -5},
                           "labelExpr": "datum.value == 2 ? '2' : datum.value == 0 ? '0' : datum.value == -2 ? '−2' : ''",
                           "labelAngle": -90, "labelAlign": "center", "labelBaseline": "alphabetic", "labelPadding": 18,
                           "title": "χ", "titleAngle": -90, "titleX": -43, "titleY": 54, "titleAlign": "center", "titleBaseline": "alphabetic"}},
            "color": {"field": "s", "type": "nominal", "scale": {"domain": ["PN", "MOS"], "range": ["#000000", "#ff0000"]}, "legend": null}
          }
        },
        {
          "mark": {"type": "rule", "strokeWidth": 1.8, "clip": true},
          "encoding": {
            "x": {"field": "e", "type": "quantitative",
                  "axis": {"orient": "top", "values": [3, 4, 5, 6, 7, 8, 9], "labels": false, "tickSize": -7, "title": null}},
            "y": {"field": "cl", "type": "quantitative",
                  "axis": {"orient": "right", "values": [-3, -2, -1, 0, 1, 2, 3],
                           "tickSize": {"condition": {"test": "datum.value % 2 == 0", "value": -9}, "value": -5},
                           "labels": false, "title": null}},
            "y2": {"field": "ch"},
            "color": {"field": "s", "type": "nominal", "scale": {"domain": ["PN", "MOS"], "range": ["#000000", "#ff0000"]}, "legend": null}
          }
        },
        {
          "data": {"values": [{"z": 0}]},
          "mark": {"type": "rule", "strokeWidth": 1.5, "color": "black"},
          "encoding": {
            "y": {"field": "z", "type": "quantitative", "axis": null}
          }
        }
      ]
    }
  ]
}
